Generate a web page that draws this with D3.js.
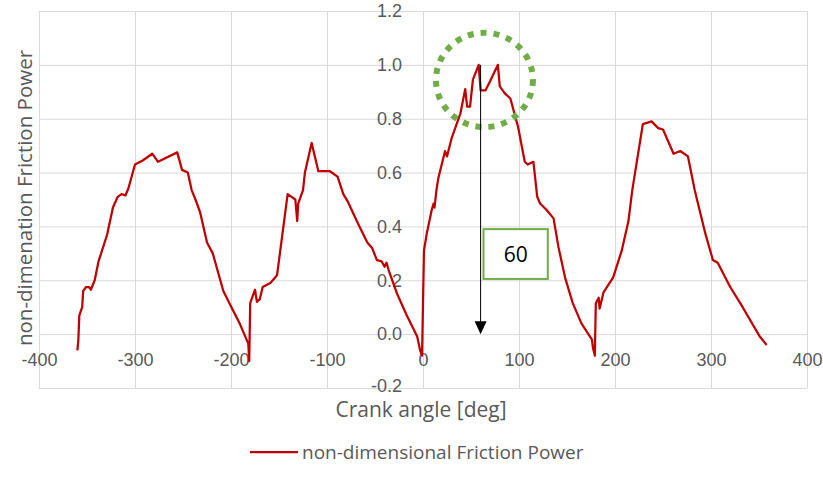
<!DOCTYPE html>
<html>
<head>
<meta charset="utf-8">
<script src="https://cdn.jsdelivr.net/npm/d3@7"></script>
<style>
  html, body { margin: 0; padding: 0; background: #fff; }
  svg { display: block; font-family: "Open Sans", "Noto Sans", sans-serif; }
</style>
</head>
<body>
<svg id="chart" width="823" height="485"></svg>
<script>
// Crank angle [deg] for each sample
const angles = [
  -360, -359, -358, -355, -354, -351, -348, -346, -342, -338, -329, -323, -318, -314, -310, -307,
  -300, -292, -282, -276, -256, -251, -245, -241, -237, -232, -225, -219, -208, -201, -191, -182,
  -181, -180, -177, -175, -173, -170, -167, -159, -154, -152, -141, -133, -131, -130, -125, -123,
  -116, -109, -97, -89, -83, -78, -69, -58, -53, -48, -43, -40, -38, -36, -27, -17,
  -10, -6, -3, -1, 1, 4, 9, 11, 12, 14, 16, 23, 25, 30, 39, 44,
  46, 49, 52, 58, 60, 65, 70, 78, 80, 85, 91, 99, 106, 109, 115, 119,
  122, 129, 136, 141, 148, 156, 165, 176, 177, 179, 180, 183, 184, 188, 198, 207,
  214, 218, 229, 238, 245, 250, 261, 268, 276, 283, 294, 302, 307, 320, 333, 351, 358
];
// non-dimensional friction power at each angle
const frictionPower = [
  -0.06, -0.02, 0.07, 0.10, 0.16, 0.175, 0.175, 0.165, 0.20, 0.27, 0.37, 0.47, 0.51, 0.52, 0.515, 0.54,
  0.63, 0.645, 0.67, 0.64, 0.675, 0.61, 0.60, 0.535, 0.50, 0.45, 0.34, 0.30, 0.16, 0.11, 0.04, -0.035,
  -0.10, 0.115, 0.145, 0.165, 0.12, 0.13, 0.175, 0.19, 0.21, 0.22, 0.52, 0.50, 0.42, 0.485, 0.535, 0.60,
  0.71, 0.605, 0.605, 0.585, 0.52, 0.49, 0.42, 0.34, 0.32, 0.275, 0.27, 0.25, 0.265, 0.24, 0.15, 0.07,
  0.02, -0.01, -0.06, -0.08, 0.31, 0.375, 0.46, 0.485, 0.47, 0.535, 0.58, 0.68, 0.66, 0.73, 0.82, 0.91,
  0.845, 0.845, 0.945, 1.0, 0.905, 0.905, 0.94, 1.0, 0.92, 0.895, 0.875, 0.77, 0.64, 0.63, 0.64, 0.51,
  0.485, 0.46, 0.43, 0.325, 0.21, 0.115, 0.04, -0.02, -0.05, -0.08, 0.115, 0.135, 0.095, 0.155, 0.21, 0.31,
  0.42, 0.535, 0.78, 0.79, 0.765, 0.76, 0.67, 0.68, 0.66, 0.535, 0.375, 0.275, 0.265, 0.175, 0.10, -0.01, -0.04
];

const xTicks = [-400, -300, -200, -100, 0, 100, 200, 300, 400];
const yTicks = [-0.2, 0.0, 0.2, 0.4, 0.6, 0.8, 1.0, 1.2];

const seriesName = "non-dimensional Friction Power";
const xTitle = "Crank angle [deg]";
const yTitle = "non-dimenation Friction Power";

// peak marker: angle of maximum friction power
const peakAngle = 60;
const peakValue = 1.0;

const svg = d3.select("#chart");
const plot = { left: 39, right: 807, top: 11, bottom: 388 };

const x = d3.scaleLinear().domain([-400, 400]).range([plot.left, plot.right]);
const y = d3.scaleLinear().domain([-0.2, 1.2]).range([plot.bottom, plot.top]);

const fmtNum = f => v => f(v).replace("\u2212", "-");
const gridColor = "#d9d9d9";
const textColor = "#595959";

// vertical gridlines
svg.append("g")
  .attr("transform", `translate(0,${plot.bottom})`)
  .call(d3.axisBottom(x).tickValues(xTicks).tickSize(-(plot.bottom - plot.top)).tickFormat(""))
  .call(g => g.select(".domain").remove())
  .call(g => g.selectAll("line").attr("stroke", gridColor).attr("stroke-width", 1));

// horizontal gridlines
svg.append("g")
  .attr("transform", `translate(${plot.left},0)`)
  .call(d3.axisLeft(y).tickValues(yTicks).tickSize(-(plot.right - plot.left)).tickFormat(""))
  .call(g => g.select(".domain").remove())
  .call(g => g.selectAll("line").attr("stroke", gridColor).attr("stroke-width", 1));

// x tick labels sit along the zero line
svg.append("g")
  .attr("transform", `translate(0,${y(0)})`)
  .call(d3.axisBottom(x).tickValues(xTicks).tickSize(0).tickPadding(19).tickFormat(fmtNum(d3.format("d"))))
  .call(g => g.select(".domain").remove())
  .call(g => g.selectAll("text").attr("fill", textColor).style("font-size", "18px"));

// y tick labels sit along the zero-angle line
svg.append("g")
  .attr("transform", `translate(${x(0)},0)`)
  .call(d3.axisLeft(y).tickValues(yTicks).tickSize(0).tickPadding(21).tickFormat(fmtNum(d3.format(".1f"))))
  .call(g => g.select(".domain").remove())
  .call(g => g.selectAll("text").attr("fill", textColor).style("font-size", "18px"))
  .call(g => g.selectAll(".tick").filter(d => d < 0).select("text").attr("dy", "0.22em"));

// friction power curve
const pts = angles.map((a, i) => [a, frictionPower[i]]);
svg.append("path")
  .datum(pts)
  .attr("fill", "none")
  .attr("stroke", "#c00000")
  .attr("stroke-width", 2.25)
  .attr("stroke-linejoin", "round")
  .attr("d", d3.line().x(d => x(d[0])).y(d => y(d[1])));

// dotted ring around the peak
svg.append("ellipse")
  .attr("cx", x(64)).attr("cy", y(0.944))
  .attr("rx", x(50.5) - x(0)).attr("ry", y(0) - y(0.175))
  .attr("fill", "none")
  .attr("stroke", "#70ad47")
  .attr("stroke-width", 6)
  .attr("stroke-dasharray", "6,7");

// arrow from the peak down to the axis
svg.append("line")
  .attr("x1", x(peakAngle)).attr("x2", x(peakAngle))
  .attr("y1", y(peakValue)).attr("y2", y(0) - 12)
  .attr("stroke", "#000").attr("stroke-width", 1);
svg.append("path")
  .attr("d", `M${x(peakAngle) - 6},${y(0) - 13} L${x(peakAngle) + 6},${y(0) - 13} L${x(peakAngle)},${y(0)} Z`)
  .attr("fill", "#000");

// callout box with the peak angle
const box = { x0: 63, x1: 130, y0: 0.39, y1: 0.205 };
svg.append("rect")
  .attr("x", x(box.x0)).attr("y", y(box.y0))
  .attr("width", x(box.x1) - x(box.x0)).attr("height", y(box.y1) - y(box.y0))
  .attr("fill", "#fff").attr("stroke", "#70ad47").attr("stroke-width", 2);
svg.append("text")
  .attr("x", (x(box.x0) + x(box.x1)) / 2).attr("y", (y(box.y0) + y(box.y1)) / 2)
  .attr("text-anchor", "middle").attr("dominant-baseline", "central")
  .attr("fill", "#000").style("font-size", "21px")
  .text(String(peakAngle));

// axis titles
svg.append("text")
  .attr("x", 421).attr("y", 417)
  .attr("text-anchor", "middle").attr("fill", textColor).style("font-size", "21px")
  .text(xTitle);
svg.append("text")
  .attr("transform", "translate(32,198) rotate(-90)")
  .attr("text-anchor", "middle").attr("fill", textColor).style("font-size", "20.5px")
  .text(yTitle);

// legend
const legend = svg.append("g").attr("transform", "translate(250,452)");
legend.append("line").attr("x1", 0).attr("x2", 48).attr("y1", 0).attr("y2", 0)
  .attr("stroke", "#c00000").attr("stroke-width", 2.25);
legend.append("text").attr("x", 52).attr("y", 0).attr("dominant-baseline", "central")
  .attr("fill", textColor).style("font-size", "19px")
  .text(seriesName);
</script>
</body>
</html>
